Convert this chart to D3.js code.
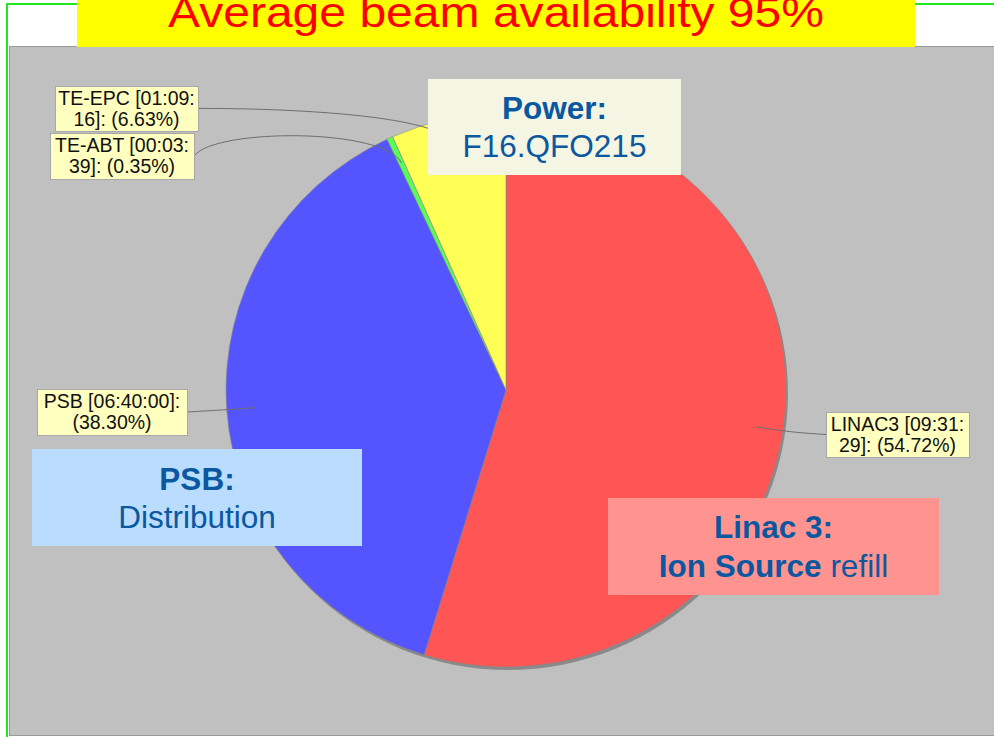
<!DOCTYPE html>
<html>
<head>
<meta charset="utf-8">
<script src="https://cdn.jsdelivr.net/npm/d3@7/dist/d3.min.js"></script>
<style>
  html, body { margin: 0; padding: 0; background: #ffffff; }
  svg { display: block; }
</style>
</head>
<body>
<svg id="chart" width="994" height="737"></svg>
<script>
// ---------------- DATA ----------------
const title = "Average beam availability 95%";
const categories = ["LINAC3", "PSB", "TE-ABT", "TE-EPC"];
const durations  = ["09:31:29", "06:40:00", "00:03:39", "01:09:16"];
const percents   = [54.72, 38.30, 0.35, 6.63];
const sliceColors = ["#ff5555", "#5555ff", "#55ff55", "#ffff55"];

// annotation callouts (text only)
const notePower = { head: "Power:", body: "F16.QFO215" };
const notePSB   = { head: "PSB:", body: "Distribution" };
const noteLinac = { head: "Linac 3:", bodyBold: "Ion Source", body: " refill" };

// ---------------- LAYOUT ----------------
const W = 994, H = 737;
const cx = 506, cy = 390, rx = 280, ry = 277;
const linkPct = 0.9, linkArea = 1.04;
// label boxes [x, y, w, h] and side
const labelBoxes = {
  "LINAC3": { x: 826, y: 412, w: 143, h: 45, side: "right" },
  "PSB":    { x: 37,  y: 389, w: 150, h: 46, side: "left" },
  "TE-ABT": { x: 50,  y: 133, w: 144, h: 46, side: "left" },
  "TE-EPC": { x: 55,  y: 86,  w: 143, h: 45, side: "left" }
};

const svg = d3.select("#chart");

// background + green frame
svg.append("rect").attr("x", 0).attr("y", 0).attr("width", W).attr("height", H).attr("fill", "#ffffff");
svg.append("rect").attr("x", 7).attr("y", 4).attr("width", W + 20).attr("height", H + 20)
  .attr("fill", "none").attr("stroke", "#22e622").attr("stroke-width", 2);

// gray plot panel
svg.append("rect").attr("x", 9.5).attr("y", 46.5).attr("width", W).attr("height", 689)
  .attr("fill", "#c0c0c0").attr("stroke", "#9a9a9a").attr("stroke-width", 1);

// title banner
svg.append("rect").attr("x", 77).attr("y", 0).attr("width", 838).attr("height", 47).attr("fill", "#ffff00");
svg.append("text").attr("x", 496).attr("y", 27).attr("text-anchor", "middle")
  .attr("font-family", "'Liberation Sans', Arial, sans-serif").attr("font-size", 42)
  .attr("fill", "#ff0000").attr("textLength", 656).attr("lengthAdjust", "spacingAndGlyphs")
  .text(title);

// ---------------- PIE ----------------
const data = categories.map((c, i) => ({ cat: c, dur: durations[i], pct: percents[i], color: sliceColors[i] }));
const pie = d3.pie().sort(null).value(d => d.pct).startAngle(0).endAngle(2 * Math.PI);
const arcs = pie(data);
const arc = d3.arc().innerRadius(0).outerRadius(rx);

// shadow
svg.append("ellipse").attr("cx", cx + 2).attr("cy", cy + 3).attr("rx", rx).attr("ry", ry)
  .attr("fill", "#8a8a8a");

const pg = svg.append("g").attr("transform", `translate(${cx},${cy}) scale(1,${ry / rx})`);
pg.selectAll("path").data(arcs).join("path")
  .attr("d", arc)
  .attr("fill", d => d.data.color)
  .attr("stroke", "#888888").attr("stroke-width", 0.6)
  .attr("vector-effect", "non-scaling-stroke");

// ---------------- LINKS ----------------
const linkG = svg.append("g");
arcs.forEach(a => {
  const b = labelBoxes[a.data.cat];
  const th = (a.startAngle + a.endAngle) / 2;
  const s = Math.sin(th), c = Math.cos(th);
  const lx = cx + s * rx * linkPct, ly = cy - c * ry * linkPct;
  const ex = cx + s * rx * linkArea, ey = cy - c * ry * linkArea;
  const ty = b.y + b.h / 2;
  let tx, ax;
  if (b.side === "left") { tx = b.x + b.w; ax = cx - rx * linkArea; }
  else { tx = b.x; ax = cx + rx * linkArea; }
  const p = d3.path();
  p.moveTo(tx, ty);
  p.bezierCurveTo(ax, ey, ex, ey, lx, ly);
  linkG.append("path").attr("d", p.toString()).attr("fill", "none")
    .attr("stroke", "#6e6e6e").attr("stroke-width", 1);
});

// ---------------- LABELS ----------------
const labelFont = "'Liberation Sans', Arial, sans-serif";
const labelSize = 19.5;
const meas = svg.append("text").attr("font-family", labelFont).attr("font-size", labelSize).attr("visibility", "hidden");
function textW(t) { meas.text(t); return meas.node().getComputedTextLength(); }
function wrap(str, maxW) {
  // break opportunities after spaces and colons
  const tokens = str.match(/[^ :]*[ :]?/g).filter(t => t.length);
  const lines = []; let cur = "";
  tokens.forEach(tok => {
    const trial = cur + tok;
    if (cur && textW(trial.trimEnd()) > maxW) { lines.push(cur.trimEnd()); cur = tok.trimStart(); }
    else cur = trial;
  });
  if (cur) lines.push(cur.trimEnd());
  return lines;
}

const lblG = svg.append("g");
data.forEach(d => {
  const b = labelBoxes[d.cat];
  const str = `${d.cat} [${d.dur}]: (${d.pct.toFixed(2)}%)`;
  const lines = wrap(str, 141);
  lblG.append("rect").attr("x", b.x + 0.5).attr("y", b.y + 0.5).attr("width", b.w).attr("height", b.h)
    .attr("fill", "#ffffc0").attr("stroke", "#a8a8a8").attr("stroke-width", 1);
  lines.forEach((ln, i) => {
    lblG.append("text").attr("x", b.x + b.w / 2).attr("y", b.y + 19 + i * 21)
      .attr("text-anchor", "middle").attr("font-family", labelFont).attr("font-size", labelSize)
      .attr("fill", "#111111").text(ln);
  });
});
meas.remove();

// ---------------- CALLOUT BOXES ----------------
const noteFont = "'Liberation Sans', Arial, sans-serif";
const noteColor = "#0b58a0";
function callout(x, y, w, h, fill, b1, b2) {
  const g = svg.append("g");
  g.append("rect").attr("x", x).attr("y", y).attr("width", w).attr("height", h).attr("fill", fill);
  g.append("text").attr("x", x + w / 2).attr("y", y + b1.dy).attr("text-anchor", "middle")
    .attr("font-family", noteFont).attr("font-size", 31.5).attr("font-weight", "bold")
    .attr("fill", noteColor).text(b1.text);
  const t2 = g.append("text").attr("x", x + w / 2).attr("y", y + b2.dy).attr("text-anchor", "middle")
    .attr("font-family", noteFont).attr("font-size", 31.5).attr("fill", noteColor);
  b2.parts.forEach(p => t2.append("tspan").attr("font-weight", p.bold ? "bold" : "normal").text(p.text));
}
callout(428, 79, 253, 96, "#f4f5e2",
  { text: notePower.head, dy: 40 }, { parts: [{ text: notePower.body }], dy: 78 });
callout(32, 449, 330, 97, "#b9dcff",
  { text: notePSB.head, dy: 41 }, { parts: [{ text: notePSB.body }], dy: 79 });
callout(608, 498, 331, 97, "#ff938f",
  { text: noteLinac.head, dy: 40 },
  { parts: [{ text: noteLinac.bodyBold, bold: true }, { text: noteLinac.body }], dy: 79 });
</script>
</body>
</html>
